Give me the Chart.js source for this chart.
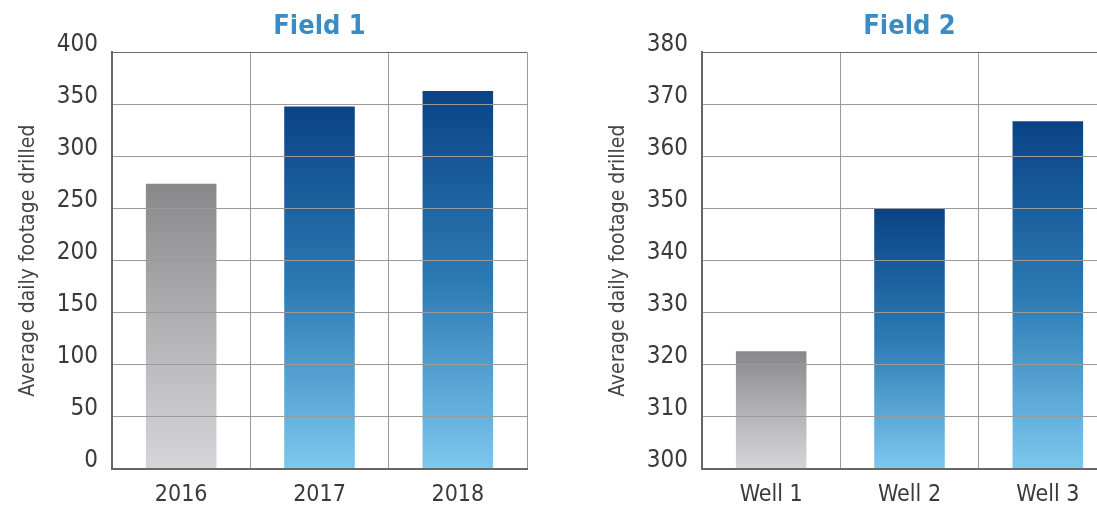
<!DOCTYPE html>
<html>
<head>
<meta charset="utf-8">
<script src="https://cdn.jsdelivr.net/npm/chart.js@4"></script>
<style>
  html, body { margin: 0; padding: 0; background: #fff; overflow: hidden; width: 1097px; height: 506px; }
  .panel { position: absolute; top: 0; width: 540px; height: 506px; }
  #field1 { left: 0; }
  #field2 { left: 590px; }
</style>
</head>
<body>
<div class="panel" id="field1"><canvas id="chart1"></canvas></div>
<div class="panel" id="field2"><canvas id="chart2"></canvas></div>
<script>
// Field 1: footage by year
const field1Labels = ['2016', '2017', '2018'];
const field1Values = [274, 348, 363];

// Field 2: footage by well
const field2Labels = ['Well 1', 'Well 2', 'Well 3'];
const field2Values = [322.6, 350, 366.8];

// top -> bottom gradient stops, first bar grey, the rest blue
const greyStops = ['#88888a', '#b2b2b5', '#d6d6da'];
const blueStops = ['#0a4385', '#2c7ab4', '#7dc8ee'];

const FONT = '"Liberation Sans Narrow", "DejaVu Sans Condensed", "Roboto", sans-serif';

function barFill(context) {
    const chart = context.chart;
    const area = chart.chartArea;
    if (!area) return blueStops[1];
    const top = chart.scales.y.getPixelForValue(context.raw);
    const stops = context.dataIndex === 0 ? greyStops : blueStops;
    const g = chart.ctx.createLinearGradient(0, top, 0, area.bottom);
    g.addColorStop(0, stops[0]);
    g.addColorStop(0.5, stops[1]);
    g.addColorStop(1, stops[2]);
    return g;
}

function makeChart(canvasId, title, labels, values, yMin, yMax, yStep) {
    return new Chart(document.getElementById(canvasId), {
        type: 'bar',
        data: {
            labels: labels,
            datasets: [{
                data: values,
                backgroundColor: barFill,
                borderWidth: 0,
                barPercentage: 0.51,
                categoryPercentage: 1
            }]
        },
        options: {
            responsive: true,
            maintainAspectRatio: false,
            animation: false,
            events: [],
            layout: { padding: { left: 0, right: 13, top: 0, bottom: 0 } },
            plugins: {
                legend: { display: false },
                tooltip: { enabled: false },
                title: {
                    display: true,
                    fullSize: false,
                    text: title,
                    color: '#3a8cc4',
                    font: { family: FONT, size: 27, weight: 'bold' },
                    padding: { top: 11, bottom: 9 }
                }
            },
            scales: {
                x: {
                    grid: {
                        z: 1,
                        drawTicks: false,
                        color: ctx => (ctx.index === 0 || ctx.index === labels.length) ? '#6a6a6a' : '#9a9a9a',
                        lineWidth: 1
                    },
                    border: { display: true, color: '#666', width: 2, z: 2 },
                    ticks: {
                        color: '#3a3a3a',
                        padding: 12,
                        font: { family: FONT, size: 23 }
                    },
                    afterFit: scale => { scale.height = 37; }
                },
                y: {
                    min: yMin,
                    max: yMax,
                    grid: {
                        z: 1,
                        drawTicks: false,
                        color: ctx => ctx.tick && ctx.tick.value === yMax ? '#6a6a6a' : '#9a9a9a',
                        lineWidth: 1
                    },
                    border: { display: true, color: '#666', width: 2, z: 2 },
                    ticks: {
                        stepSize: yStep,
                        color: '#3a3a3a',
                        padding: 14,
                        labelOffset: -8,
                        font: { family: FONT, size: 24 }
                    },
                    title: {
                        display: true,
                        text: 'Average daily footage drilled',
                        color: '#444',
                        font: { family: FONT, size: 21 },
                        padding: { top: 16, bottom: 0 }
                    },
                    afterFit: scale => { scale.width = 112; }
                }
            }
        }
    });
}

makeChart('chart1', 'Field 1', field1Labels, field1Values, 0, 400, 50);
makeChart('chart2', 'Field 2', field2Labels, field2Values, 300, 380, 10);
</script>
</body>
</html>
